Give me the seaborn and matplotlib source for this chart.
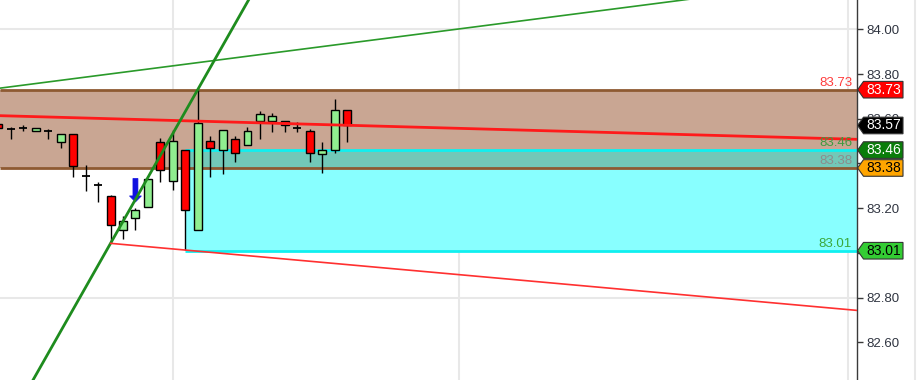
import matplotlib
matplotlib.use("Agg")
import matplotlib.pyplot as plt
from matplotlib.patches import Polygon
import numpy as np
import pandas as pd
import seaborn as sns

sns.set_theme(style="white")
plt.rcParams["font.family"] = ["Liberation Sans", "DejaVu Sans"]

# ---- OHLC bars, oldest first ----
opens = [83.575, 83.553, 83.560, 83.545, 83.547, 83.497, 83.533, 83.344, 83.304, 83.254,
         83.102, 83.155, 83.204, 83.495, 83.322, 83.460, 83.101, 83.500, 83.459, 83.509,
         83.481, 83.589, 83.589, 83.589, 83.560, 83.544, 83.442, 83.459, 83.638]
highs = [83.580, 83.564, 83.572, 83.560, 83.553, 83.533, 83.533, 83.393, 83.318, 83.260,
         83.165, 83.202, 83.332, 83.512, 83.550, 83.460, 83.730, 83.523, 83.550, 83.523,
         83.564, 83.635, 83.624, 83.589, 83.587, 83.553, 83.496, 83.687, 83.638]
lows = [83.555, 83.508, 83.545, 83.544, 83.508, 83.468, 83.341, 83.278, 83.229, 83.043,
        83.061, 83.102, 83.204, 83.318, 83.281, 83.013, 83.101, 83.341, 83.352, 83.408,
        83.481, 83.508, 83.542, 83.542, 83.542, 83.408, 83.356, 83.445, 83.497]
closes = [83.560, 83.553, 83.560, 83.558, 83.547, 83.533, 83.390, 83.344, 83.304, 83.125,
          83.141, 83.192, 83.332, 83.371, 83.500, 83.192, 83.582, 83.470, 83.550, 83.448,
          83.544, 83.623, 83.612, 83.571, 83.560, 83.448, 83.460, 83.638, 83.570]

# ---- price axis ----
tick_values = [82.6, 82.8, 83.0, 83.2, 83.4, 83.6, 83.8, 84.0]
# labels sitting under the price tags are left blank
tick_labels = ["82.60", "82.80", "", "83.20", "", "83.60", "83.80", "84.00"]
grid_prices = [82.8, 83.4, 84.0]
grid_bars = [14, 37, 68.2]

# ---- zones ----
resistance_zone = [83.38, 83.73]
support_zone = [83.01, 83.46]
support_zone_start = 15

# ---- drawn trend lines (bar index, price) ----
resistance_line_x = [0, 69]
resistance_line_y = [83.614, 83.508]
channel_top_x = [0, 55]
channel_top_y = [83.736, 84.131]
steep_support_bars = [9, 16]        # low of bar 9 -> high of bar 16
lower_channel_bars = [9, 15]        # low of bar 9 -> low of bar 15

signal_bar = 11                      # sell arrow above this bar

# ---- labels ----
level_values = [83.73, 83.46, 83.38, 83.01]
level_colors = ["#ff3b3b", "#3f9a3f", "#8c8c8c", "#3aa83a"]
tag_values = [83.73, 83.57, 83.46, 83.38, 83.01]
tag_fills = ["#ff0000", "#000000", "#0a7d0a", "#ffa500", "#33cc33"]
tag_text = ["white", "white", "white", "black", "black"]

XMIN, XMAX = 0.12, 68.96
YMIN, YMAX = 82.432, 84.131

W, H = 923, 380
fig = plt.figure(figsize=(W / 100, H / 100), dpi=100)
fig.patch.set_facecolor("white")
ax = fig.add_axes([0, 0, 857 / W, 1])
ax.set_xlim(XMIN, XMAX)
ax.set_ylim(YMIN, YMAX)
ax.set_facecolor("white")

# grid
for p in grid_prices:
    ax.axhline(p, color="#e8e8e8", lw=1.5, zorder=0.2)
for b in grid_bars:
    ax.axvline(b, color="#e8e8e8", lw=1.5, zorder=0.2)

# zones
ax.axhspan(resistance_zone[0], resistance_zone[1], color="#c9a693", lw=0, zorder=1)
ax.fill_between([support_zone_start, XMAX], support_zone[0], support_zone[1],
                color="#88ffff", lw=0, zorder=1.1)
ax.fill_between([support_zone_start, XMAX], resistance_zone[0], support_zone[1],
                color="#72c8b8", lw=0, zorder=1.2)
ax.hlines(support_zone, support_zone_start, XMAX, color="#10f0f0", lw=2, zorder=1.3)
ax.hlines(resistance_zone, XMIN, XMAX, color="#8e5a32", lw=2, zorder=1.4)

# candles
x_idx = np.arange(len(opens))
body_w = 0.64
ax.vlines(x_idx, lows, highs, color="black", lw=1, zorder=3)
for i, (o, h, l, c) in enumerate(zip(opens, highs, lows, closes)):
    if o == c:
        ax.hlines(c, i - body_w / 2, i + body_w / 2, color="black", lw=1.3, zorder=4)
    else:
        fill = "#90ee90" if c > o else "#ff0000"
        ax.bar(i, abs(c - o), bottom=min(o, c), width=body_w, color=fill,
               edgecolor="black", linewidth=1, zorder=4)

# sell signal arrow
tip = highs[signal_bar] + 0.026
head_len, arrow_len = 0.027, 0.105
sw, hw = 0.2, 0.48
arrow = Polygon([
    (signal_bar - sw, tip + arrow_len), (signal_bar + sw, tip + arrow_len),
    (signal_bar + sw, tip + head_len), (signal_bar + hw, tip + head_len),
    (signal_bar, tip), (signal_bar - hw, tip + head_len),
    (signal_bar - sw, tip + head_len)],
    closed=True, facecolor="#1010e0", edgecolor="#1010e0", lw=0.5, zorder=5)
ax.add_patch(arrow)


def line_through(x0, y0, x1, y1):
    slope = (y1 - y0) / (x1 - x0)
    xs = np.array([XMIN - 1, XMAX + 1])
    return pd.DataFrame({"x": xs, "y": y0 + slope * (xs - x0)})


lines = [
    (line_through(channel_top_x[0], channel_top_y[0], channel_top_x[1], channel_top_y[1]),
     "#2a9a2a", 1.2),
    (line_through(resistance_line_x[0], resistance_line_y[0],
                  resistance_line_x[1], resistance_line_y[1]), "#ff1a1a", 2.0),
    (line_through(steep_support_bars[0], lows[steep_support_bars[0]],
                  steep_support_bars[1], highs[steep_support_bars[1]]), "#1e8c1e", 2.0),
]
for df, col, lw in lines:
    sns.lineplot(data=df, x="x", y="y", ax=ax, color=col, lw=lw, legend=False,
                 zorder=6, estimator=None, sort=False)

# lower channel starts at the bar-9 low
b0, b1 = lower_channel_bars
slope = (lows[b1] - lows[b0]) / (b1 - b0)
lower_df = pd.DataFrame({"x": [b0, XMAX + 1],
                         "y": [lows[b0], lows[b0] + slope * (XMAX + 1 - b0)]})
sns.lineplot(data=lower_df, x="x", y="y", ax=ax, color="#ff3030", lw=1.2,
             legend=False, zorder=6, estimator=None, sort=False)

ax.set_xlim(XMIN, XMAX)
ax.set_ylim(YMIN, YMAX)
ax.set_xlabel("")
ax.set_ylabel("")

# level captions inside the plot
for v, col in zip(level_values, level_colors):
    ax.annotate(f"{v:.2f}", xy=(1, v), xycoords=("axes fraction", "data"),
                xytext=(-5, 1), textcoords="offset pixels", ha="right", va="bottom",
                color=col, fontsize=9.5, zorder=7)

# right price axis
for s in ["top", "left", "bottom"]:
    ax.spines[s].set_visible(False)
ax.spines["right"].set_visible(True)
ax.spines["right"].set_color("#3a3a3a")
ax.spines["right"].set_linewidth(1)
ax.set_xticks([])
ax.yaxis.tick_right()
ax.set_yticks(tick_values)
ax.set_yticklabels(tick_labels)
ax.tick_params(axis="y", direction="out", length=4.5, width=1, color="#3a3a3a",
               pad=2, labelsize=9.5, labelcolor="#2f3440")

# price tags on the axis
ax2 = fig.add_axes([857 / W, 0, 66 / W, 1])
ax2.set_xlim(0, 66)
ax2.set_ylim(YMIN, YMAX)
ax2.axis("off")
ax2.patch.set_visible(False)
ax2.axvline(58, color="#e8e8e8", lw=1.5, zorder=0)
half = 8.3 / 223.6
for v, fc, tc in zip(tag_values, tag_fills, tag_text):
    tag = Polygon([(0.6, v), (6.5, v + half), (46, v + half), (46, v - half),
                   (6.5, v - half)], closed=True, facecolor=fc, edgecolor="#333333",
                  lw=0.8, zorder=5)
    ax2.add_patch(tag)
    ax2.text(26.3, v, f"{v:.2f}", color=tc, fontsize=10, ha="center", va="center",
             zorder=6)

fig.savefig("out.png", dpi=100, facecolor="white")
